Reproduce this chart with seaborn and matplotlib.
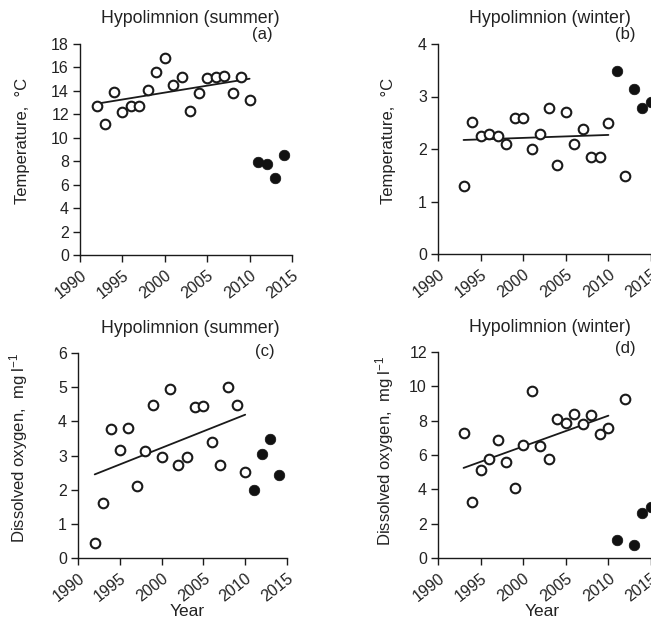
import matplotlib
matplotlib.use("Agg")
import matplotlib.pyplot as plt
import numpy as np
import pandas as pd
import seaborn as sns

# ---- data -------------------------------------------------------------
summer_years = list(range(1992, 2011))
summer_temp = [12.7, 11.2, 13.9, 12.2, 12.7, 12.7, 14.1, 15.6, 16.8, 14.5,
               15.2, 12.3, 13.8, 15.1, 15.2, 15.3, 13.8, 15.2, 13.2]
summer_oxygen = [0.45, 1.61, 3.77, 3.16, 3.81, 2.12, 3.13, 4.47, 2.95, 4.96,
                 2.73, 2.96, 4.41, 4.45, 3.40, 2.72, 5.00, 4.47, 2.52]
summer_recent_years = [2011, 2012, 2013, 2014]
summer_temp_recent = [7.9, 7.8, 6.6, 8.5]
summer_oxygen_recent = [2.00, 3.03, 3.48, 2.44]

winter_years = list(range(1993, 2011)) + [2012]
winter_temp = [1.30, 2.52, 2.24, 2.28, 2.24, 2.09, 2.59, 2.59, 2.00, 2.28,
               2.78, 1.69, 2.70, 2.09, 2.38, 1.85, 1.85, 2.49, 1.49]
winter_oxygen = [7.26, 3.28, 5.10, 5.75, 6.85, 5.61, 4.08, 6.58, 9.73, 6.50,
                 5.79, 8.10, 7.88, 8.39, 7.83, 8.31, 7.22, 7.59, 9.24]
winter_recent_years = [2011, 2013, 2014, 2015]
winter_temp_recent = [3.48, 3.14, 2.79, 2.90]
winter_oxygen_recent = [1.07, 0.76, 2.63, 3.00]

trend_last_year = 2010
x_ticks = [1990, 1995, 2000, 2005, 2010, 2015]

# ---- style ------------------------------------------------------------
sns.set_style("ticks")
plt.rcParams["font.family"] = ["Liberation Sans", "DejaVu Sans"]
plt.rcParams["mathtext.fontset"] = "custom"
plt.rcParams["mathtext.rm"] = "Liberation Sans"
plt.rcParams["mathtext.it"] = "Liberation Sans:italic"
plt.rcParams["mathtext.default"] = "regular"
plt.rcParams["axes.linewidth"] = 1.0
plt.rcParams["axes.edgecolor"] = "#1a1a1a"
plt.rcParams["xtick.color"] = "#1a1a1a"
plt.rcParams["ytick.color"] = "#1a1a1a"

FS_TICK = 11.5
FS_LABEL = 12
FS_TITLE = 12.8
TXT = "#222222"

fig = plt.figure(figsize=(6.51, 6.25), dpi=100)
W, H = 651, 625


def px_axes(left, top, right, bottom):
    return fig.add_axes([left / W, 1 - bottom / H, (right - left) / W, (bottom - top) / H])


panels = [
    dict(rect=(80, 44, 292, 255), years=summer_years, vals=summer_temp,
         ryears=summer_recent_years, rvals=summer_temp_recent,
         ymax=18, ystep=2, title="Hypolimnion (summer)", tag="(a)",
         tagpos=(0.86, 1.045), titlex=0.52,
         ylabel="Temperature,  °C", ylabpos=(-0.235, 0.54), xlabel=None,
         xlabpos=None),
    dict(rect=(438, 44, 651, 254), years=winter_years, vals=winter_temp,
         ryears=winter_recent_years, rvals=winter_temp_recent,
         ymax=4, ystep=1, title="Hypolimnion (winter)", tag="(b)",
         tagpos=(0.878, 1.045), titlex=0.526,
         ylabel="Temperature,  °C", ylabpos=(-0.195, 0.54), xlabel=None,
         xlabpos=None),
    dict(rect=(78, 353, 287, 558), years=summer_years, vals=summer_oxygen,
         ryears=summer_recent_years, rvals=summer_oxygen_recent,
         ymax=6, ystep=1, title="Hypolimnion (summer)", tag="(c)",
         tagpos=(0.895, 1.005), titlex=0.536,
         ylabel="Dissolved oxygen,  mg l$^{-1}$", ylabpos=(-0.23, 0.54),
         xlabel="Year", xlabpos=(0.52, -0.225)),
    dict(rect=(438, 352, 651, 558), years=winter_years, vals=winter_oxygen,
         ryears=winter_recent_years, rvals=winter_oxygen_recent,
         ymax=12, ystep=2, title="Hypolimnion (winter)", tag="(d)",
         tagpos=(0.878, 1.018), titlex=0.526,
         ylabel="Dissolved oxygen,  mg l$^{-1}$", ylabpos=(-0.195, 0.52),
         xlabel="Year", xlabpos=(0.49, -0.225)),
]

for p in panels:
    ax = px_axes(*p["rect"])
    df = pd.DataFrame({"year": p["years"], "value": p["vals"]})
    recent = pd.DataFrame({"year": p["ryears"], "value": p["rvals"]})
    fit = df[df["year"] <= trend_last_year]

    sns.regplot(data=fit, x="year", y="value", ax=ax, scatter=False, ci=None,
                truncate=True, line_kws=dict(color="#1a1a1a", lw=1.3))
    sns.scatterplot(data=df, x="year", y="value", ax=ax, marker="o", s=48,
                    facecolor="white", edgecolor="#1a1a1a", linewidth=1.5,
                    zorder=3)
    sns.scatterplot(data=recent, x="year", y="value", ax=ax, marker="o", s=58,
                    color="#111111", edgecolor="#111111", linewidth=0.5,
                    zorder=3)

    ax.set_xlim(1990, 2015)
    ax.set_ylim(0, p["ymax"])
    ax.set_xticks(x_ticks)
    ax.set_yticks(np.arange(0, p["ymax"] + 0.01, p["ystep"]))
    sns.despine(ax=ax)
    ax.tick_params(axis="both", direction="out", length=5, width=1.0,
                   labelsize=FS_TICK, labelcolor=TXT)
    ax.tick_params(axis="y", pad=3)
    ax.tick_params(axis="x", pad=4)
    for lab in ax.get_xticklabels():
        lab.set_rotation(38)
        lab.set_ha("right")
        lab.set_va("top")
        lab.set_rotation_mode("anchor")

    ax.set_ylabel(p["ylabel"], fontsize=FS_LABEL, color=TXT)
    ax.yaxis.set_label_coords(*p["ylabpos"])
    if p["xlabel"]:
        ax.set_xlabel(p["xlabel"], fontsize=FS_LABEL + 0.5, color=TXT)
        ax.xaxis.set_label_coords(*p["xlabpos"])
    else:
        ax.set_xlabel("")

    ax.text(p["titlex"], 1.12, p["title"], transform=ax.transAxes,
            ha="center", va="center", fontsize=FS_TITLE, color=TXT)
    ax.text(*p["tagpos"], p["tag"], transform=ax.transAxes,
            ha="center", va="center", fontsize=FS_LABEL, color=TXT)

fig.savefig("out.png", dpi=100)
